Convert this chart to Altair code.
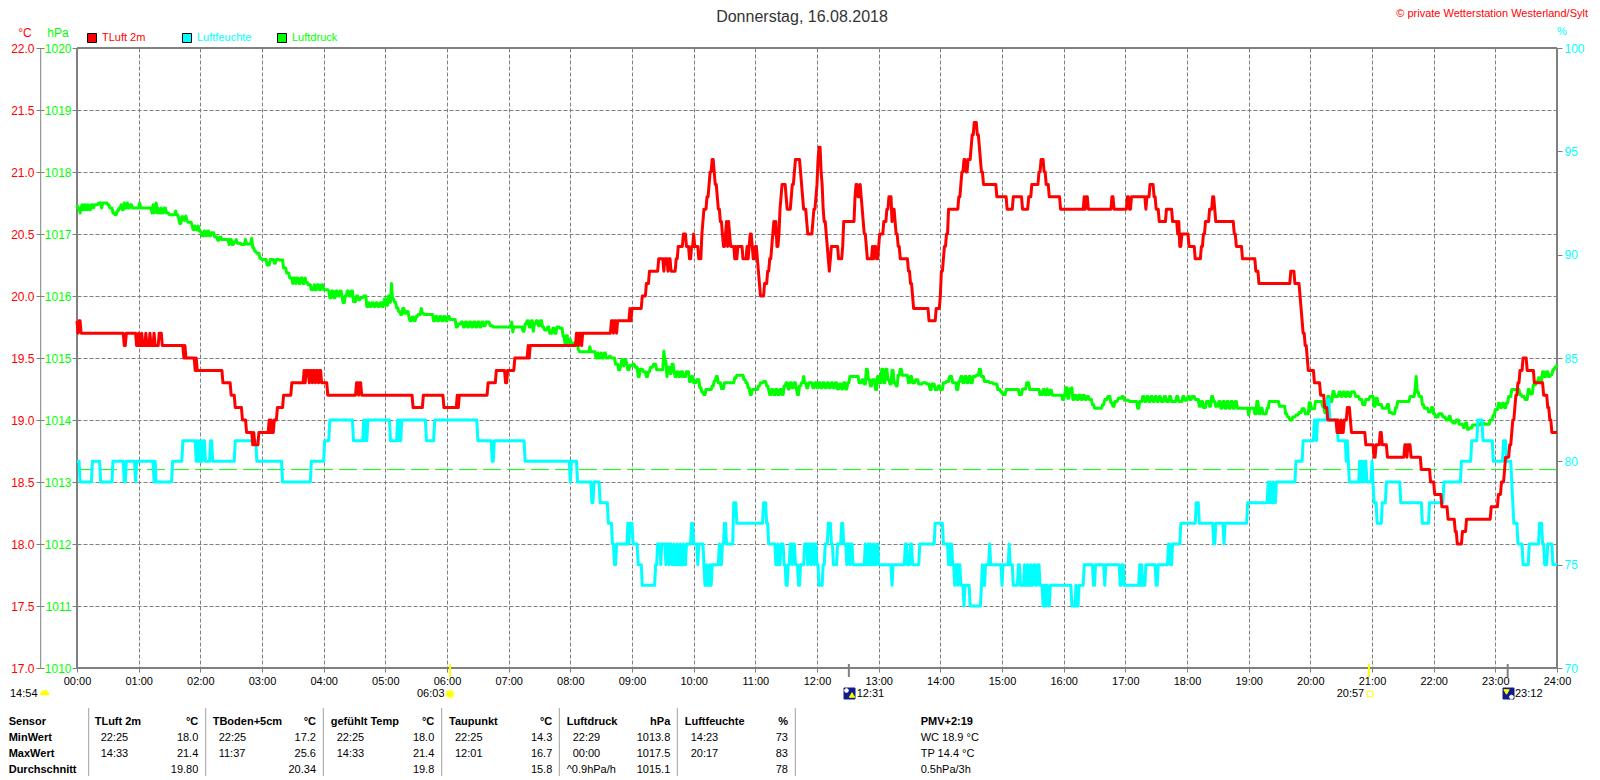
import altair as alt
import pandas as pd

FONT = "Liberation Sans"
RED, CYAN, GREEN, GREY = "#ff0000", "#00ffff", "#00ff00", "#808080"

HOUR_TICKS = list(range(0, 1441, 60))
TEMP_TICKS = [17.0, 17.5, 18.0, 18.5, 19.0, 19.5, 20.0, 20.5, 21.0, 21.5, 22.0]
PRES_TICKS = list(range(1010, 1021))
HUM_TICKS = [70, 75, 80, 85, 90, 95, 100]

TEMP = [(0,19.8),(1,19.7),(2,19.8),(4,19.7),(46,19.6),(48,19.7),(58,19.6),(60,19.7),(61,19.6),(63,19.7),(64,19.6),
(67,19.7),(68,19.6),(71,19.7),(72,19.6),(75,19.7),(76,19.6),(80,19.7),(83,19.6),(104,19.5),(105,19.6),(106,19.5),
(115,19.4),(116,19.5),(117,19.4),(142,19.3),(150,19.2),(154,19.1),(161,19.0),(165,18.9),(171,18.8),(172,18.9),
(173,18.8),(177,18.9),(187,19.0),(188,18.9),(189,19.0),(190,18.9),(192,19.0),(195,19.1),(201,19.2),(209,19.3),
(221,19.4),(222,19.3),(223,19.4),(226,19.3),(227,19.4),(229,19.3),(230,19.4),(232,19.3),(233,19.4),(235,19.3),
(236,19.4),(238,19.3),(244,19.2),(272,19.3),(274,19.2),(275,19.3),(277,19.2),(327,19.1),(337,19.2),(357,19.1),
(370,19.2),(371,19.1),(372,19.2),(400,19.3),(408,19.4),(417,19.3),(419,19.4),(426,19.5),(439,19.6),(440,19.5),
(441,19.6),(486,19.7),(488,19.6),(489,19.7),(491,19.6),(492,19.7),(520,19.8),(522,19.7),(523,19.8),(525,19.7),
(526,19.8),(538,19.9),(539,19.8),(540,19.9),(550,20.0),(554,20.1),(557,20.2),(566,20.3),(571,20.2),(572,20.3),
(575,20.2),(576,20.3),(578,20.2),(583,20.3),(585,20.4),(590,20.5),(593,20.4),(596,20.3),(598,20.4),(600,20.5),
(601,20.4),(605,20.3),(608,20.5),(609,20.6),(610,20.7),(613,20.8),(615,20.9),(616,21.0),(618,21.1),(620,21.0),
(621,20.9),(623,20.8),(624,20.7),(626,20.6),(628,20.5),(629,20.4),(631,20.5),(632,20.6),(633,20.4),(634,20.6),
(635,20.5),(636,20.4),(640,20.3),(641,20.4),(642,20.3),(643,20.4),(648,20.3),(652,20.4),(653,20.3),(654,20.4),
(655,20.5),(657,20.4),(658,20.3),(660,20.4),(662,20.3),(663,20.2),(664,20.1),(665,20.0),(669,20.1),(672,20.2),
(674,20.3),(676,20.4),(677,20.5),(678,20.6),(679,20.5),(680,20.6),(681,20.4),(683,20.5),(684,20.7),(685,20.8),
(686,20.9),(690,20.8),(691,20.7),(695,20.8),(696,20.9),(698,21.0),(699,21.1),(704,21.0),(705,20.9),(706,20.8),
(707,20.7),(710,20.6),(711,20.5),(716,20.6),(717,20.7),(719,20.8),(720,20.9),(721,21.1),(722,21.2),(724,21.0),
(725,20.9),(726,20.7),(727,20.6),(729,20.5),(730,20.4),(731,20.3),(732,20.2),(733,20.3),(734,20.4),(741,20.3),
(745,20.4),(746,20.6),(757,20.8),(758,20.9),(760,20.8),(762,20.9),(763,20.8),(764,20.7),(765,20.6),(766,20.5),
(768,20.4),(769,20.3),(774,20.4),(775,20.3),(776,20.4),(778,20.3),(780,20.4),(781,20.5),(785,20.6),(788,20.7),
(790,20.8),(793,20.6),(794,20.7),(796,20.6),(797,20.5),(799,20.4),(801,20.3),(809,20.2),(811,20.1),(813,20.0),
(814,19.9),(829,19.8),(836,19.9),(840,20.0),(841,20.2),(843,20.3),(844,20.4),(846,20.5),(848,20.7),(858,20.8),
(860,20.9),(861,21.0),(863,21.1),(865,21.0),(867,21.1),(870,21.2),(871,21.3),(873,21.4),(876,21.3),(878,21.2),
(879,21.1),(880,21.0),(882,20.9),(895,20.8),(905,20.7),(911,20.8),(920,20.7),(926,20.8),(929,20.9),(936,21.0),
(938,21.1),(941,21.0),(943,20.9),(946,20.8),(957,20.7),(980,20.8),(981,20.7),(982,20.8),(984,20.7),(1007,20.8),
(1009,20.7),(1022,20.8),(1024,20.7),(1026,20.8),(1040,20.7),(1041,20.8),(1044,20.9),(1048,20.8),(1050,20.7),
(1053,20.6),(1060,20.7),(1066,20.6),(1071,20.5),(1072,20.6),(1073,20.4),(1075,20.5),(1082,20.4),(1088,20.3),
(1094,20.4),(1096,20.5),(1098,20.6),(1102,20.7),(1105,20.8),(1107,20.7),(1108,20.6),(1126,20.5),(1128,20.4),
(1134,20.3),(1147,20.2),(1150,20.1),(1181,20.2),(1185,20.1),(1190,20.0),(1191,19.9),(1192,19.8),(1193,19.7),
(1195,19.6),(1197,19.5),(1198,19.4),(1204,19.3),(1210,19.2),(1214,19.1),(1217,19.0),(1226,18.9),(1227,19.0),
(1228,18.9),(1230,19.0),(1231,18.9),(1233,19.0),(1236,19.1),(1239,19.0),(1240,18.9),(1254,18.8),(1262,18.7),
(1264,18.8),(1268,18.9),(1270,18.8),(1275,18.7),(1292,18.8),(1294,18.7),(1295,18.8),(1298,18.7),(1308,18.6),
(1317,18.5),(1321,18.4),(1328,18.3),(1334,18.2),(1341,18.1),(1343,18.0),(1348,18.1),(1352,18.2),(1376,18.3),
(1383,18.4),(1386,18.5),(1389,18.6),(1390,18.7),(1394,18.8),(1396,18.9),(1397,19.0),(1399,19.1),(1400,19.2),
(1402,19.3),(1404,19.4),(1407,19.5),(1411,19.4),(1418,19.3),(1427,19.2),(1431,19.1),(1433,19.0),(1435,18.9),(1440,18.9)]

HUM = [(0,80),(3,79),(15,80),(23,79),(35,80),(46,79),(48,80),(57,79),(58,80),(75,79),(76,80),(77,79),(93,80),(103,81),
(116,80),(117,81),(118,80),(119,81),(120,80),(121,81),(122,80),(123,81),(125,80),(130,81),(132,80),(154,81),(175,80),
(200,79),(228,80),(241,81),(246,82),(269,81),(279,82),(280,81),(281,82),(282,81),(283,82),(305,81),(312,82),(313,81),
(314,82),(315,81),(316,82),(340,81),(348,82),(390,81),(404,80),(406,81),(436,80),(480,79),(481,80),(487,79),(501,78),
(503,79),(509,78),(517,77),(521,76),(523,75),(525,76),(536,77),(537,76),(538,77),(541,76),(546,75),(550,74),(563,75),
(565,76),(568,75),(569,76),(573,75),(574,76),(576,75),(577,76),(579,75),(581,76),(582,75),(584,76),(585,75),(587,76),
(588,75),(590,76),(591,75),(593,76),(598,77),(600,76),(604,75),(605,76),(610,75),(611,74),(613,75),(614,74),(616,75),
(617,74),(618,75),(625,76),(626,75),(628,76),(630,77),(632,76),(639,78),(642,77),(668,78),(671,77),(673,76),(680,75),
(682,76),(683,75),(685,76),(688,75),(690,74),(692,75),(694,76),(696,75),(697,76),(699,75),(702,74),(704,75),(708,76),
(711,75),(712,76),(714,75),(715,76),(717,75),(718,76),(720,75),(722,74),(726,75),(728,76),(731,77),(734,76),(736,75),
(740,76),(744,77),(746,76),(749,75),(750,76),(752,75),(753,76),(755,75),(767,76),(768,75),(770,76),(771,75),(772,76),
(773,75),(775,76),(776,75),(778,76),(780,75),(793,74),(794,75),(806,76),(808,75),(811,76),(813,75),(820,76),(835,77),
(843,76),(848,75),(849,76),(850,75),(851,76),(852,75),(854,74),(855,75),(857,74),(858,75),(860,74),(863,73),(864,74),
(869,73),(880,74),(881,75),(882,74),(884,75),(888,76),(889,75),(900,74),(901,75),(907,76),(908,75),(911,74),(916,75),
(918,74),(922,75),(923,74),(925,75),(926,74),(928,75),(929,74),(931,75),(933,74),(935,75),(937,74),(940,73),(941,74),
(942,73),(943,74),(945,73),(947,74),(968,73),(972,74),(973,73),(975,74),(980,75),(989,74),(991,75),(1000,74),(1001,75),
(1015,74),(1017,75),(1019,74),(1034,75),(1035,74),(1036,75),(1037,74),(1040,75),(1050,74),(1052,75),(1062,76),(1064,75),
(1066,76),(1074,77),(1089,78),(1092,77),(1106,76),(1108,77),(1116,76),(1117,77),(1139,78),(1159,79),(1160,78),(1161,79),
(1162,78),(1164,79),(1165,78),(1167,79),(1186,80),(1193,81),(1204,82),(1206,81),(1207,82),(1217,83),(1219,82),(1227,81),
(1235,80),(1236,81),(1237,80),(1238,79),(1248,80),(1249,79),(1250,80),(1252,79),(1253,80),(1255,79),(1260,80),(1261,79),
(1262,78),(1265,77),(1270,78),(1274,79),(1288,78),(1309,77),(1316,78),(1330,79),(1347,80),(1357,81),(1363,82),(1368,81),
(1378,80),(1388,81),(1391,80),(1396,79),(1397,78),(1398,77),(1402,76),(1407,75),(1413,76),(1423,77),(1426,76),(1428,75),
(1431,76),(1436,75),(1440,75)]

PRES = [(0,1017.47),(1,1017.42),(3,1017.34),(4,1017.42),(5,1017.47),(6,1017.39),(7,1017.47),(8,1017.39),(9,1017.47),(10,1017.39),
(11,1017.47),(12,1017.39),(14,1017.47),(16,1017.42),(17,1017.47),(21,1017.5),(24,1017.42),(25,1017.5),(30,1017.47),(32,1017.42),
(35,1017.34),(37,1017.31),(39,1017.37),(41,1017.42),(43,1017.47),(44,1017.39),(46,1017.5),(47,1017.42),(49,1017.5),(50,1017.42),
(52,1017.47),(54,1017.42),(61,1017.5),(62,1017.42),(73,1017.34),(74,1017.47),(75,1017.34),(76,1017.42),(77,1017.5),(78,1017.34),
(79,1017.42),(80,1017.34),(82,1017.42),(83,1017.34),(85,1017.42),(87,1017.34),(90,1017.31),(96,1017.37),(97,1017.31),(99,1017.25),
(100,1017.17),(102,1017.28),(104,1017.22),(106,1017.29),(107,1017.22),(108,1017.19),(112,1017.14),(113,1017.07),(115,1017.13),
(116,1017.07),(118,1017.13),(119,1017.05),(121,1017.02),(122,1016.97),(124,1017.05),(125,1016.97),(127,1017.05),(129,1016.97),
(131,1017.02),(134,1016.95),(137,1016.9),(139,1016.95),(141,1016.91),(148,1016.83),(149,1016.91),(151,1016.83),(153,1016.87),
(155,1016.91),(156,1016.85),(160,1016.83),(164,1016.91),(165,1016.84),(170,1016.93),(171,1016.78),(173,1016.72),(175,1016.69),
(178,1016.61),(180,1016.59),(185,1016.5),(188,1016.59),(192,1016.53),(194,1016.59),(197,1016.58),(201,1016.45),(204,1016.37),
(207,1016.29),(210,1016.2),(211,1016.29),(213,1016.2),(214,1016.29),(216,1016.2),(218,1016.29),(220,1016.2),(222,1016.29),
(223,1016.22),(225,1016.18),(228,1016.1),(231,1016.18),(232,1016.1),(234,1016.18),(236,1016.1),(238,1016.18),(240,1016.1),
(245,1016.08),(246,1015.97),(248,1016.08),(250,1015.97),(252,1016.08),(254,1016.0),(256,1016.08),(258,1015.97),(259,1015.89),
(261,1016.0),(263,1016.08),(265,1016.0),(267,1016.08),(269,1015.91),(272,1016.0),(274,1015.94),(276,1015.97),(279,1016.0),
(282,1015.83),(284,1015.89),(285,1015.83),(287,1015.89),(289,1015.83),(291,1015.89),(293,1015.83),(295,1015.89),(297,1015.83),
(299,1015.95),(301,1015.85),(303,1016.0),(305,1015.9),(306,1016.2),(307,1015.95),(309,1015.9),(311,1015.81),(313,1015.75),
(315,1015.7),(317,1015.8),(319,1015.72),(321,1015.75),(323,1015.66),(324,1015.6),(326,1015.66),(328,1015.6),(330,1015.67),
(332,1015.7),(335,1015.8),(336,1015.72),(338,1015.7),(347,1015.6),(349,1015.67),(351,1015.6),(353,1015.67),(355,1015.6),
(357,1015.67),(359,1015.6),(361,1015.67),(363,1015.62),(369,1015.5),(371,1015.55),(374,1015.58),(376,1015.5),(378,1015.58),
(380,1015.5),(382,1015.58),(384,1015.5),(386,1015.58),(388,1015.5),(390,1015.58),(392,1015.5),(394,1015.58),(396,1015.52),
(398,1015.58),(402,1015.52),(405,1015.5),(423,1015.58),(424,1015.42),(425,1015.5),(434,1015.43),(436,1015.55),(438,1015.6),
(440,1015.5),(442,1015.6),(444,1015.43),(445,1015.55),(447,1015.6),(449,1015.52),(451,1015.6),(453,1015.5),(455,1015.45),
(458,1015.5),(460,1015.4),(463,1015.48),(465,1015.4),(467,1015.5),(470,1015.48),(473,1015.35),(475,1015.2),(476,1015.36),
(478,1015.22),(479,1015.3),(481,1015.2),(483,1015.24),(486,1015.2),(488,1015.13),(489,1015.1),(499,1015.18),(500,1015.1),
(505,1015.0),(507,1015.08),(508,1015.0),(510,1015.08),(511,1015.0),(513,1015.08),(515,1015.0),(518,1015.03),(520,1015.0),
(524,1014.9),(527,1014.81),(529,1014.87),(530,1014.97),(532,1014.87),(533,1014.97),(535,1014.9),(536,1014.81),(538,1014.88),
(541,1014.9),(543,1014.85),(546,1014.7),(548,1014.82),(551,1014.78),(554,1014.7),(556,1014.78),(558,1014.85),(561,1014.9),
(564,1014.81),(571,1015.11),(572,1014.95),(574,1014.7),(575,1014.85),(577,1014.75),(579,1014.9),(581,1014.78),(582,1014.7),
(584,1014.78),(586,1014.7),(588,1014.78),(590,1014.7),(593,1014.78),(596,1014.62),(598,1014.7),(600,1014.6),(603,1014.65),
(606,1014.52),(608,1014.45),(610,1014.41),(612,1014.49),(618,1014.55),(620,1014.63),(622,1014.7),(624,1014.6),(627,1014.51),
(630,1014.6),(640,1014.68),(642,1014.72),(649,1014.65),(651,1014.6),(653,1014.52),(655,1014.41),(657,1014.49),(663,1014.55),
(665,1014.6),(668,1014.62),(671,1014.55),(673,1014.49),(674,1014.41),(676,1014.49),(678,1014.41),(680,1014.49),(682,1014.41),
(684,1014.49),(686,1014.41),(688,1014.55),(690,1014.6),(692,1014.5),(694,1014.6),(696,1014.52),(698,1014.6),(700,1014.5),
(701,1014.41),(703,1014.55),(705,1014.6),(707,1014.7),(708,1014.6),(710,1014.52),(712,1014.6),(716,1014.52),(718,1014.6),
(720,1014.52),(722,1014.6),(724,1014.52),(726,1014.6),(728,1014.52),(730,1014.6),(732,1014.52),(734,1014.6),(736,1014.52),
(738,1014.6),(740,1014.5),(742,1014.58),(744,1014.5),(746,1014.6),(748,1014.5),(750,1014.6),(752,1014.7),(761,1014.6),
(764,1014.65),(766,1014.58),(768,1014.82),(770,1014.65),(772,1014.55),(774,1014.65),(777,1014.49),(779,1014.7),(781,1014.6),
(783,1014.82),(785,1014.6),(787,1014.82),(789,1014.65),(791,1014.58),(793,1014.8),(795,1014.6),(797,1014.55),(799,1014.72),
(801,1014.82),(803,1014.72),(809,1014.6),(811,1014.7),(813,1014.6),(816,1014.65),(819,1014.58),(823,1014.6),(827,1014.58),
(830,1014.49),(832,1014.58),(835,1014.49),(838,1014.55),(840,1014.49),(843,1014.6),(846,1014.62),(849,1014.7),(852,1014.6),
(856,1014.49),(858,1014.62),(860,1014.7),(862,1014.6),(864,1014.7),(866,1014.6),(868,1014.7),(870,1014.6),(872,1014.7),
(875,1014.72),(878,1014.82),(880,1014.7),(883,1014.62),(888,1014.6),(892,1014.58),(896,1014.49),(899,1014.45),(901,1014.41),
(904,1014.49),(917,1014.41),(920,1014.5),(924,1014.6),(927,1014.49),(937,1014.41),(940,1014.49),(942,1014.41),(944,1014.5),
(945,1014.41),(947,1014.48),(949,1014.4),(959,1014.33),(961,1014.4),(962,1014.52),(964,1014.35),(966,1014.5),(968,1014.52),
(969,1014.33),(971,1014.4),(973,1014.33),(975,1014.4),(977,1014.33),(979,1014.4),(981,1014.33),(983,1014.38),(985,1014.33),
(988,1014.25),(990,1014.19),(998,1014.25),(1000,1014.33),(1003,1014.38),(1006,1014.28),(1008,1014.22),(1010,1014.3),(1013,1014.35),
(1017,1014.38),(1019,1014.32),(1024,1014.3),(1032,1014.19),(1034,1014.3),(1037,1014.38),(1039,1014.3),(1041,1014.38),(1043,1014.3),
(1045,1014.38),(1047,1014.3),(1049,1014.38),(1051,1014.3),(1053,1014.38),(1055,1014.3),(1058,1014.38),(1060,1014.3),(1063,1014.38),
(1065,1014.3),(1070,1014.38),(1072,1014.3),(1076,1014.38),(1078,1014.32),(1081,1014.38),(1083,1014.33),(1085,1014.38),(1088,1014.33),
(1092,1014.22),(1094,1014.3),(1096,1014.2),(1099,1014.3),(1102,1014.22),(1104,1014.38),(1106,1014.3),(1108,1014.22),(1111,1014.3),
(1113,1014.19),(1115,1014.3),(1117,1014.19),(1119,1014.3),(1121,1014.19),(1123,1014.3),(1125,1014.19),(1127,1014.3),(1129,1014.19),
(1140,1014.08),(1141,1014.19),(1146,1014.1),(1148,1014.3),(1150,1014.1),(1152,1014.19),(1154,1014.1),(1158,1014.19),(1160,1014.3),
(1170,1014.22),(1176,1014.1),(1178,1014.05),(1180,1014.0),(1183,1014.05),(1186,1014.08),(1189,1014.12),(1192,1014.18),(1195,1014.1),
(1199,1014.28),(1201,1014.18),(1205,1014.3),(1212,1014.22),(1214,1014.12),(1217,1014.38),(1219,1014.3),(1222,1014.46),(1224,1014.38),
(1228,1014.45),(1230,1014.38),(1232,1014.45),(1234,1014.38),(1236,1014.45),(1238,1014.38),(1240,1014.45),(1244,1014.38),(1248,1014.33),
(1251,1014.25),(1254,1014.33),(1258,1014.38),(1262,1014.22),(1264,1014.35),(1266,1014.25),(1270,1014.19),(1275,1014.25),(1277,1014.12),
(1280,1014.1),(1283,1014.2),(1285,1014.3),(1297,1014.38),(1302,1014.5),(1303,1014.7),(1304,1014.45),(1306,1014.38),(1309,1014.25),
(1311,1014.19),(1315,1014.13),(1318,1014.2),(1320,1014.1),(1322,1014.05),(1325,1014.1),(1329,1014.05),(1332,1014.0),(1335,1014.06),
(1337,1013.98),(1339,1013.95),(1342,1014.0),(1345,1013.93),(1349,1013.88),(1351,1013.95),(1353,1013.85),(1355,1013.87),(1358,1013.92),
(1366,1013.95),(1370,1013.93),(1375,1014.0),(1378,1014.08),(1380,1014.17),(1383,1014.27),(1385,1014.2),(1387,1014.27),(1389,1014.2),
(1391,1014.28),(1393,1014.38),(1396,1014.49),(1404,1014.41),(1406,1014.38),(1409,1014.33),(1412,1014.49),(1414,1014.42),(1417,1014.57),
(1420,1014.62),(1422,1014.68),(1424,1014.62),(1426,1014.78),(1428,1014.7),(1430,1014.78),(1432,1014.7),(1434,1014.73),(1436,1014.81),
(1438,1014.85),(1440,1014.89)]

REF_PRESSURE = 1013.2
SUN_TIMES = [363, 1257]      # 06:03, 20:57
MOON_TIMES = [751, 1392]     # 12:31, 23:12

HEADERS = [("TLuft 2m", "°C"), ("TBoden+5cm", "°C"), ("gefühlt Temp", "°C"), ("Taupunkt", "°C"), ("Luftdruck", "hPa"), ("Luftfeuchte", "%")]
MIN_ROW = [("22:25", "18.0"), ("22:25", "17.2"), ("22:25", "18.0"), ("22:25", "14.3"), ("22:29", "1013.8"), ("14:23", "73")]
MAX_ROW = [("14:33", "21.4"), ("11:37", "25.6"), ("14:33", "21.4"), ("12:01", "16.7"), ("00:00", "1017.5"), ("20:17", "83")]
AVG_ROW = ["19.80", "20.34", "19.8", "15.8", "1015.1", "78"]
ROW_NAMES = ["Sensor", "MinWert", "MaxWert", "Durchschnitt"]
PMV_LINES = ["PMV+2:19", "WC 18.9 °C", "TP 14.4 °C", "0.5hPa/3h"]

LEFT = 77
TOP = 48
W, H = 1480, 620
ONE = alt.Data(values=[{"a": 1}])


def frame(pairs, name):
    # the station logs one value a minute: each read value holds until the minute before the next one
    rows = []
    for i, (m, v) in enumerate(pairs):
        rows.append((m, v))
        if i + 1 < len(pairs) and pairs[i + 1][0] - 1 > m:
            rows.append((pairs[i + 1][0] - 1, v))
    return pd.DataFrame(rows, columns=["m", name])


X_SCALE = alt.Scale(domain=[0, 1440], nice=False)
x_axis = alt.Axis(
    values=HOUR_TICKS, title=None, grid=True, gridColor=GREY, gridDash=[4, 2], gridWidth=1,
    domain=False, ticks=True, tickColor=GREY, tickSize=4, labelFont=FONT, labelFontSize=11,
    labelColor="#000000", labelPadding=3, labelFlush=False, labelOverlap=False,
    labelExpr="(datum.value<600?'0':'')+(datum.value/60)+':00'")
X_ENC = alt.X("m:Q", scale=X_SCALE, axis=x_axis)


def label(s, x, y, color="#000000", size=11, align="left", bold=False):
    return alt.Chart(ONE).mark_text(
        font=FONT, fontSize=size, align=align, baseline="middle", color=color,
        fontWeight="bold" if bold else "normal"
    ).encode(x=alt.value(x - LEFT), y=alt.value(y - TOP), text=alt.value(s))


def icon(x, y, shape, size, fill=None, stroke=None, sw=1):
    kw = dict(shape=shape, size=size, opacity=1, filled=fill is not None, strokeWidth=sw)
    if fill:
        kw["fill"] = fill
    kw["stroke"] = stroke if stroke else (fill if fill else "#000000")
    return alt.Chart(ONE).mark_point(**kw).encode(x=alt.value(x - LEFT), y=alt.value(y - TOP))


def vrule(x, y1, y2, color, width=1):
    return alt.Chart(ONE).mark_rule(color=color, strokeWidth=width).encode(
        x=alt.value(x - LEFT), y=alt.value(y1 - TOP), y2=alt.value(y2 - TOP))


def hrule(y, x1, x2, color, width=1):
    return alt.Chart(ONE).mark_rule(color=color, strokeWidth=width).encode(
        y=alt.value(y - TOP), x=alt.value(x1 - LEFT), x2=alt.value(x2 - LEFT))


pres_layer = alt.Chart(frame(PRES, "p")).mark_line(
    color=GREEN, strokeWidth=3, strokeJoin="round"
).encode(
    x=X_ENC,
    y=alt.Y("p:Q", scale=alt.Scale(domain=[1010, 1020], nice=False, zero=False),
            axis=alt.Axis(values=PRES_TICKS, title=None, orient="left", grid=True, gridColor=GREY,
                          gridDash=[4, 2], gridWidth=1, domain=False, tickColor=GREY, tickSize=5,
                          labelColor=GREEN, labelFont=FONT, labelFontSize=12, labelPadding=1,
                          labelFlush=False, labelOverlap=False, format="d")))

ref_layer = alt.Chart(pd.DataFrame({"r": [REF_PRESSURE]})).mark_rule(
    color=GREEN, strokeWidth=1, strokeDash=[18, 6]
).encode(y=alt.Y("r:Q", scale=alt.Scale(domain=[1010, 1020], nice=False, zero=False), axis=None))

hum_layer = alt.Chart(frame(HUM, "h")).mark_line(
    color=CYAN, strokeWidth=3, strokeJoin="round"
).encode(
    x=X_ENC,
    y=alt.Y("h:Q", scale=alt.Scale(domain=[70, 100], nice=False, zero=False),
            axis=alt.Axis(values=HUM_TICKS, title=None, orient="right", grid=False, domain=False,
                          tickColor=GREY, tickSize=5, labelColor=CYAN, labelFont=FONT, labelFontSize=12,
                          labelPadding=2, labelFlush=False, labelOverlap=False, format="d")))

temp_layer = alt.Chart(frame(TEMP, "t")).mark_line(
    color=RED, strokeWidth=3, strokeJoin="round"
).encode(
    x=X_ENC,
    y=alt.Y("t:Q", scale=alt.Scale(domain=[17, 22], nice=False, zero=False),
            axis=alt.Axis(values=TEMP_TICKS, title=None, orient="left", offset=33, grid=False, domain=False,
                          tickColor=GREY, tickSize=8, labelColor=RED, labelFont=FONT, labelFontSize=12,
                          labelPadding=2, labelFlush=False, labelOverlap=False, format=".1f")))

sun_ticks = alt.Chart(pd.DataFrame({"m": SUN_TIMES})).mark_rule(color="#ffff00", strokeWidth=2).encode(
    x=X_ENC, y=alt.value(664 - TOP), y2=alt.value(677 - TOP))
moon_ticks = alt.Chart(pd.DataFrame({"m": MOON_TIMES})).mark_rule(color=GREY, strokeWidth=2).encode(
    x=X_ENC, y=alt.value(664 - TOP), y2=alt.value(677 - TOP))

# plot frame, then the curves above it
frame_rules = [
    vrule(LEFT, TOP, TOP + H, GREY, 2), vrule(LEFT + W, TOP, TOP + H, GREY, 2),
    hrule(TOP, LEFT, LEFT + W, GREY, 2), hrule(TOP + H, LEFT, LEFT + W, GREY, 2),
]
layers = frame_rules + [pres_layer, ref_layer, hum_layer, temp_layer, sun_ticks, moon_ticks]

# left temperature axis line
layers.append(vrule(40.7, TOP, TOP + H, GREY))

# header texts (kept just inside the top edge of the drawing)
layers += [
    label("Donnerstag, 16.08.2018", 802, 17, color="#333333", size=16, align="center"),
    label("© private Wetterstation Westerland/Sylt", 1588, 14, color=RED, size=11, align="right"),
    label("°C", 25, 33, color=RED, align="center", size=12),
    label("hPa", 58, 33, color=GREEN, align="center", size=12),
    label("%", 1562, 32, color=CYAN, align="center"),
]

# legend
for lx, name, col in [(92, "TLuft 2m", RED), (187, "Luftfeuchte", CYAN), (282, "Luftdruck", GREEN)]:
    layers.append(icon(lx, 38, "square", 81, fill=col, stroke="#000000"))
    layers.append(label(name, lx + 10, 38, color=col))

# sun and moon annotations
SMALL_HALF = "M -1 0.4 A 1 1 0 0 1 1 0.4 Z"
layers += [
    label("14:54", 10, 694), icon(44.7, 693, SMALL_HALF, 70, fill="#ffff00"),
    label("06:03", 417, 694), icon(450, 694, "circle", 100, fill="#ffffcc"), icon(450, 694, "circle", 40, fill="#ffff00"),
    icon(849.5, 693.5, "square", 121, fill="#101c8c"), icon(852, 695, "triangle-up", 28, fill="#ffff00"),
    icon(846.5, 690.5, "circle", 14, fill="#ffffff"), label("12:31", 856.7, 694),
    label("20:57", 1336.7, 694), icon(1370, 694, "square", 30, stroke="#ffff00"),
    icon(1508.5, 693.5, "square", 121, fill="#101c8c"), icon(1506.5, 692, "triangle-down", 28, fill="#ffff00"),
    icon(1511.5, 697, "circle", 14, fill="#ffffff"), label("23:12", 1515, 694),
]

# statistics table
ROW_Y = [721.7, 737.7, 753.7, 769.5]
COL_LEFT = [94.7, 212.7, 330.7, 449, 566.7, 684.7]
COL_RIGHT = [198.3, 316, 434.3, 552.3, 670.3, 788]
for x in [88.7, 205.7, 323.3, 441.7, 559.3, 677.3, 795.3]:
    layers.append(vrule(x, 708, 776, "#a0a0a0"))
for name, y in zip(ROW_NAMES, ROW_Y):
    layers.append(label(name, 8.7, y, bold=True))
for i in range(6):
    layers.append(label(HEADERS[i][0], COL_LEFT[i], ROW_Y[0], bold=True))
    layers.append(label(HEADERS[i][1], COL_RIGHT[i], ROW_Y[0], bold=True, align="right"))
    layers.append(label(MIN_ROW[i][0], COL_LEFT[i] + 6, ROW_Y[1]))
    layers.append(label(MIN_ROW[i][1], COL_RIGHT[i], ROW_Y[1], align="right"))
    layers.append(label(MAX_ROW[i][0], COL_LEFT[i] + 6, ROW_Y[2]))
    layers.append(label(MAX_ROW[i][1], COL_RIGHT[i], ROW_Y[2], align="right"))
    layers.append(label(AVG_ROW[i], COL_RIGHT[i], ROW_Y[3], align="right"))
layers.append(label("^0.9hPa/h", COL_LEFT[4], ROW_Y[3]))
for j, s in enumerate(PMV_LINES):
    layers.append(label(s, 920.7, ROW_Y[j], bold=j == 0))

chart = alt.layer(*layers).resolve_scale(y="independent").properties(
    width=W, height=H,
    autosize=alt.AutoSizeParams(type="none"),
    padding={"left": LEFT - 8, "top": TOP - 8, "right": 35, "bottom": 108},
    background="#ffffff",
).configure_view(stroke=None)

chart.save("out.html", embed_options={"renderer": "svg", "actions": False})
